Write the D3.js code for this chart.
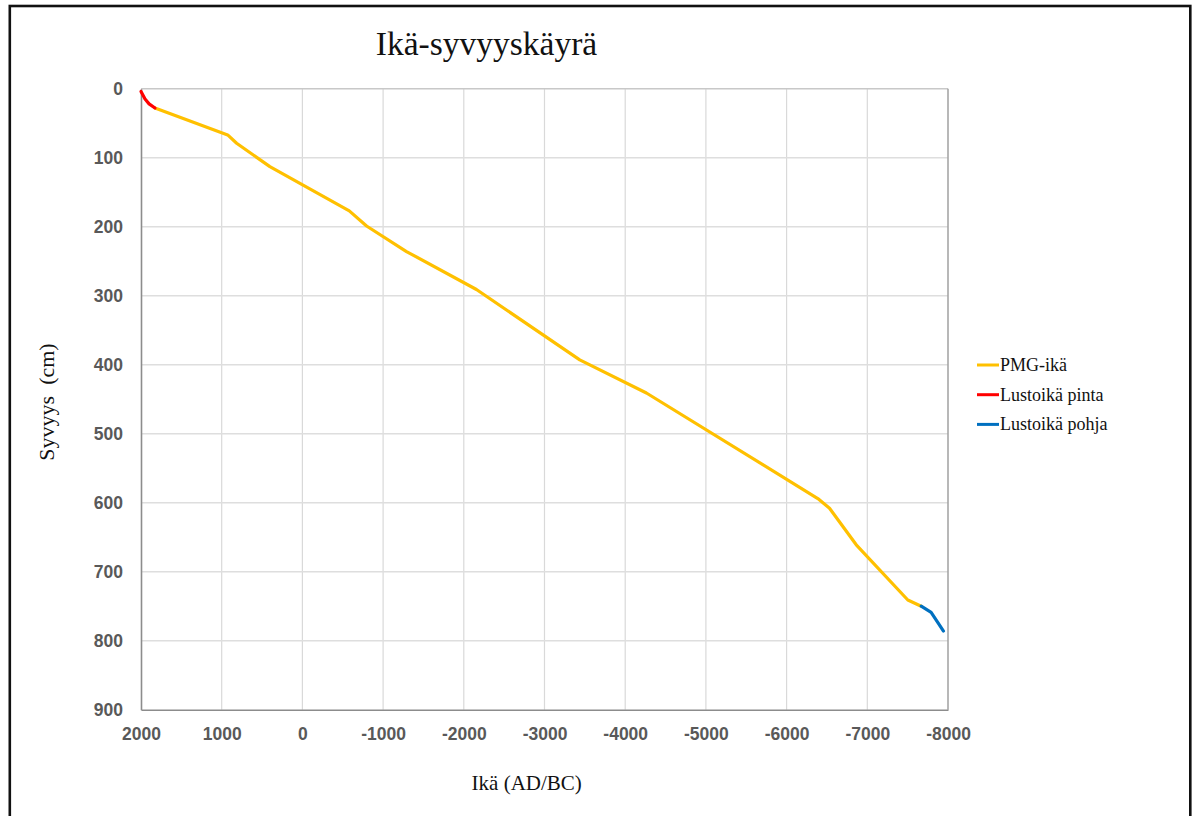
<!DOCTYPE html>
<html>
<head>
<meta charset="utf-8">
<script src="https://cdn.jsdelivr.net/npm/d3@7"></script>
<style>
  body { margin: 0; background: #fff; }
  svg { display: block; }
</style>
</head>
<body>
<div id="chart"></div>
<script>
const width = 1195
const height = 816

// series: age (AD/BC) and depth (cm)
const pmgAge = [1827, 926, 815, 403, -581, -795, -1290, -2157, -3437, -4263, -6387, -6532, -6863, -7502, -7668]
const pmgDepth = [28, 67, 79, 113, 177, 199, 236, 291, 393, 441, 594, 608, 661, 741, 750]
const pintaAge = [2000, 1950, 1900, 1827]
const pintaDepth = [4, 15, 22, 28]
const pohjaAge = [-7668, -7791, -7944]
const pohjaDepth = [750, 759, 786]

const xTickValues = [2000, 1000, 0, -1000, -2000, -3000, -4000, -5000, -6000, -7000, -8000]
const yTickValues = [0, 100, 200, 300, 400, 500, 600, 700, 800, 900]

const seriesNames = ['PMG-ikä', 'Lustoikä pinta', 'Lustoikä pohja']
const seriesColors = ['#FFC000', '#FF0000', '#0070C0']

const plot = { left: 141, right: 948, top: 88.7, bottom: 709.7 }

const svg = d3.select('#chart').append('svg').attr('width', width).attr('height', height)

// outer frame
svg.append('rect')
  .attr('x', 9.8).attr('y', 6).attr('width', 1180.5).attr('height', 840)
  .attr('fill', 'none').attr('stroke', '#111').attr('stroke-width', 2.6)

const x = d3.scaleLinear().domain([2000, -8000]).range([plot.left, plot.right])
const y = d3.scaleLinear().domain([0, 900]).range([plot.top, plot.bottom])

// gridlines
svg.append('g')
  .selectAll('line')
  .data(xTickValues.slice(1, -1))
  .enter()
  .append('line')
  .attr('x1', (d) => x(d)).attr('x2', (d) => x(d))
  .attr('y1', plot.top).attr('y2', plot.bottom)
  .attr('stroke', '#d9d9d9').attr('stroke-width', 1.2)

svg.append('g')
  .selectAll('line')
  .data(yTickValues.slice(0, -1))
  .enter()
  .append('line')
  .attr('x1', plot.left).attr('x2', plot.right)
  .attr('y1', (d) => y(d)).attr('y2', (d) => y(d))
  .attr('stroke', (d) => (d === 0 ? '#c8c8c8' : '#dedede')).attr('stroke-width', 1.5)

// plot border right
svg.append('line')
  .attr('x1', plot.right).attr('x2', plot.right)
  .attr('y1', plot.top).attr('y2', plot.bottom)
  .attr('stroke', '#a0a0a0').attr('stroke-width', 1.5)

// axes
const xAxis = svg.append('g')
  .attr('transform', `translate(0,${plot.bottom})`)
  .call(d3.axisBottom(x).tickValues(xTickValues).tickSize(0).tickPadding(18).tickFormat((d) => String(d)))
const yAxis = svg.append('g')
  .attr('transform', `translate(${plot.left},0)`)
  .call(d3.axisLeft(y).tickValues(yTickValues).tickSize(0).tickPadding(18).tickFormat((d) => String(d)))

;[xAxis, yAxis].forEach((ax) => {
  ax.select('.domain').attr('stroke', '#8c8c8c').attr('stroke-width', 1.6)
  ax.selectAll('text')
    .attr('fill', '#595959')
    .style('font-family', '"Liberation Sans", Arial, sans-serif')
    .style('font-weight', 'bold')
    .style('font-size', '17.5px')
})

// lines
const line = d3.line().x((d) => x(d[0])).y((d) => y(d[1]))
const seriesData = [
  d3.zip(pmgAge, pmgDepth),
  d3.zip(pintaAge, pintaDepth),
  d3.zip(pohjaAge, pohjaDepth)
]
seriesData.forEach((pts, i) => {
  svg.append('path')
    .attr('d', line(pts))
    .attr('fill', 'none')
    .attr('stroke', seriesColors[i])
    .attr('stroke-width', 3.2)
    .attr('stroke-linejoin', 'round')
    .attr('stroke-linecap', 'round')
})

// legend
const legend = svg.append('g').attr('transform', 'translate(977,365)')
seriesNames.forEach((name, i) => {
  const gy = i * 29.7
  legend.append('line')
    .attr('x1', 0).attr('x2', 22).attr('y1', gy).attr('y2', gy)
    .attr('stroke', seriesColors[i]).attr('stroke-width', 3)
  legend.append('text')
    .attr('x', 23).attr('y', gy + 6)
    .style('font-family', '"Liberation Serif", "Times New Roman", serif')
    .style('font-size', '18px')
    .attr('fill', '#111')
    .text(name)
})

// titles
const serif = '"Liberation Serif", "Times New Roman", serif'
svg.append('text')
  .attr('x', 486.5).attr('y', 55)
  .attr('text-anchor', 'middle')
  .style('font-family', serif).style('font-size', '33.5px')
  .attr('fill', '#111')
  .text('Ikä-syvyyskäyrä')

svg.append('text')
  .attr('x', 526.7).attr('y', 790)
  .attr('text-anchor', 'middle')
  .style('font-family', serif).style('font-size', '21px')
  .attr('fill', '#111')
  .text('Ikä (AD/BC)')

svg.append('text')
  .attr('transform', 'translate(54,402) rotate(-90)')
  .attr('text-anchor', 'middle')
  .style('font-family', serif).style('font-size', '22px')
  .attr('fill', '#111')
  .text('Syvyys\u00a0\u00a0(cm)')
</script>
</body>
</html>
